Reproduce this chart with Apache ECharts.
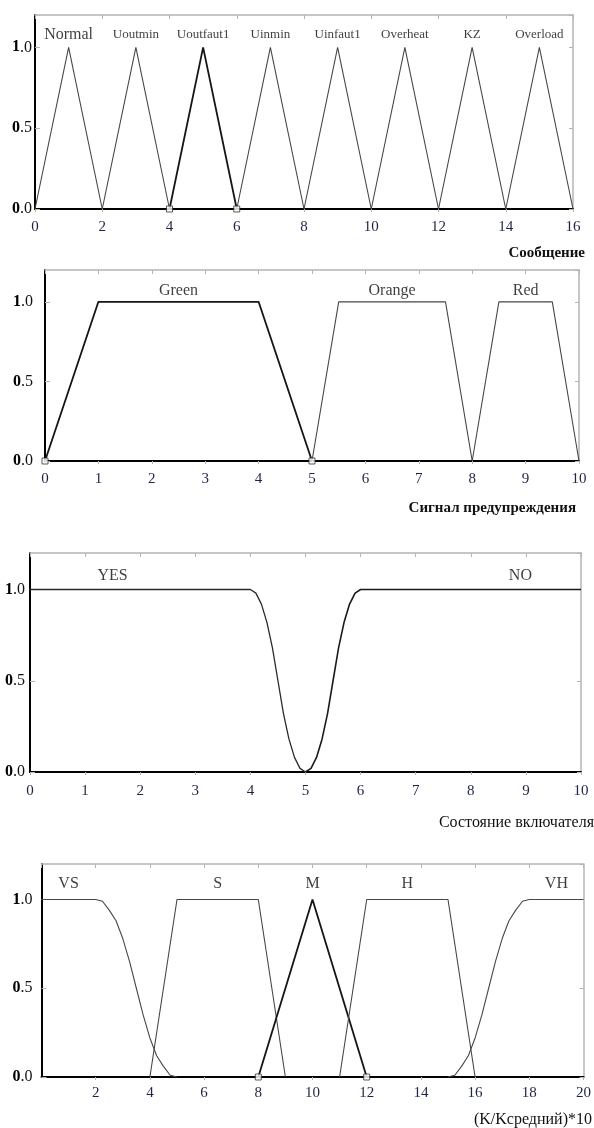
<!DOCTYPE html>
<html>
<head>
<meta charset="utf-8">
<style>
  html, body { margin: 0; padding: 0; background: #fff; }
  #chart { width: 594px; height: 1128px; }
</style>
<script src="https://cdn.jsdelivr.net/npm/echarts@6/dist/echarts.min.js"></script>
</head>
<body>
<div id="chart"></div>
<script>
// ---- Membership functions: "Сообщение" (triangles a, b, c)
const msgTerms = ['Normal', 'Uoutmin', 'Uoutfaut1', 'Uinmin', 'Uinfaut1', 'Overheat', 'KZ', 'Overload'];
const msgParams = [[0, 1, 2], [2, 3, 4], [4, 5, 6], [6, 7, 8], [8, 9, 10], [10, 11, 12], [12, 13, 14], [14, 15, 16]];
const msgSelected = 2;

// ---- "Сигнал предупреждения" (trapezoids a, b, c, d)
const warnTerms = ['Green', 'Orange', 'Red'];
const warnParams = [[0, 1, 4, 5], [5, 5.5, 7.5, 8], [8, 8.5, 9.5, 10]];
const warnLabelX = [2.5, 6.5, 9];
const warnSelected = 0;

// ---- "Состояние включателя" (Z / S shaped curves, sampled every 0.1)
const switchTerms = ['YES', 'NO'];
const switchYesX = [0, 4, 4.1, 4.2, 4.3, 4.4, 4.5, 4.6, 4.7, 4.8, 4.9, 5];
const switchYesY = [1, 1, 0.98, 0.92, 0.82, 0.68, 0.5, 0.32, 0.18, 0.08, 0.02, 0];
const switchNoX = [5, 5.1, 5.2, 5.3, 5.4, 5.5, 5.6, 5.7, 5.8, 5.9, 6, 10];
const switchNoY = [0, 0.02, 0.08, 0.18, 0.32, 0.5, 0.68, 0.82, 0.92, 0.98, 1, 1];
const switchLabelX = [1.5, 8.9];

// ---- "(K/Kсредний)*10"
const ratioTerms = ['VS', 'S', 'M', 'H', 'VH'];
const ratioVSX = [0, 2, 2.25, 2.5, 2.75, 3, 3.25, 3.5, 3.75, 4, 4.25, 4.5, 4.75, 5];
const ratioVSY = [1, 1, 0.99, 0.94, 0.88, 0.78, 0.65, 0.5, 0.35, 0.22, 0.12, 0.06, 0.01, 0];
const ratioSX = [4, 5, 8, 9];
const ratioSY = [0, 1, 1, 0];
const ratioMX = [8, 10, 12];
const ratioMY = [0, 1, 0];
const ratioHX = [11, 12, 15, 16];
const ratioHY = [0, 1, 1, 0];
const ratioVHX = [15, 15.25, 15.5, 15.75, 16, 16.25, 16.5, 16.75, 17, 17.25, 17.5, 17.75, 18, 20];
const ratioVHY = [0, 0.01, 0.06, 0.12, 0.22, 0.35, 0.5, 0.65, 0.78, 0.88, 0.94, 0.99, 1, 1];
const ratioLabelX = [1, 6.5, 10, 13.5, 19];

const SERIF = '"Liberation Serif", "DejaVu Serif", serif';
const LINE = '#474747';
const LINE_SEL = '#151515';
const TICK_COLOR = '#1f2444';
const FRAME = '#b4b4b4';

const zip = (xs, ys) => xs.map((x, i) => [x, ys[i]]);

const grids = [
  { left: 35, top: 15, width: 538, height: 194 },
  { left: 45, top: 270, width: 534, height: 191 },
  { left: 30, top: 553, width: 551, height: 219 },
  { left: 41.5, top: 864, width: 545.5, height: 213 }
];
const xRanges = [
  { max: 16, interval: 2, margin: 11, showMin: true },
  { max: 10, interval: 1, margin: 11, showMin: true },
  { max: 10, interval: 1, margin: 12, showMin: true },
  { max: 20, interval: 2, margin: 9, showMin: false }
];
const yMargins = [3, 12, 5, 9];
const labelLift = [-13, -11, -14, -16];

const xAxes = [], yAxes = [];
grids.forEach((g, i) => {
  const r = xRanges[i];
  xAxes.push({
    gridIndex: i, type: 'value', min: 0, max: r.max, interval: r.interval, position: 'bottom',
    axisLine: { show: true, onZero: false, lineStyle: { color: '#000', width: 2 } },
    axisTick: { show: true, length: 3, lineStyle: { color: FRAME } },
    splitLine: { show: false },
    axisLabel: { show: true, margin: r.margin, showMinLabel: r.showMin, fontFamily: SERIF, fontSize: 15, color: TICK_COLOR }
  });
  xAxes.push({
    gridIndex: i, type: 'value', min: 0, max: r.max, interval: r.interval, position: 'top',
    axisLine: { show: true, onZero: false, lineStyle: { color: FRAME, width: 1.5 } },
    axisTick: { show: true, inside: true, length: 4, lineStyle: { color: FRAME } },
    splitLine: { show: false }, axisLabel: { show: false }
  });
  yAxes.push({
    gridIndex: i, type: 'value', min: 0, max: 1.2, interval: 0.5, position: 'left',
    axisLine: { show: true, onZero: false, lineStyle: { color: '#000', width: 2 } },
    axisTick: { show: true, inside: true, length: 5, lineStyle: { color: FRAME } },
    splitLine: { show: false },
    axisLabel: {
      show: true, margin: yMargins[i], showMaxLabel: false,
      formatter: v => {
        if (v > 1.05) return '';
        const s = v.toFixed(1);
        return '{b|' + s[0] + '}{n|' + s.slice(1) + '}';
      },
      rich: {
        b: { fontFamily: SERIF, fontSize: 16, fontWeight: 'bold', color: '#000' },
        n: { fontFamily: SERIF, fontSize: 16, color: '#111' }
      }
    }
  });
  yAxes.push({
    gridIndex: i, type: 'value', min: 0, max: 1.2, interval: 0.5, position: 'right',
    axisLine: { show: true, onZero: false, lineStyle: { color: FRAME, width: 1.5 } },
    axisTick: { show: true, inside: true, length: 4, lineStyle: { color: FRAME } },
    splitLine: { show: false }, axisLabel: { show: false }
  });
});

const series = [];
function mfLine(panel, points, color, width) {
  series.push({
    type: 'line', xAxisIndex: panel * 2, yAxisIndex: panel * 2,
    data: points, showSymbol: false, silent: true,
    lineStyle: { color: color, width: width }
  });
}
function termLabels(panel, names, xs, sizes) {
  series.push({
    type: 'scatter', xAxisIndex: panel * 2, yAxisIndex: panel * 2, silent: true,
    symbolSize: 1, itemStyle: { color: 'transparent' },
    data: names.map((n, k) => ({ value: [xs[k], 1], name: n, label: { fontSize: sizes[k] } })),
    label: {
      show: true, position: 'inside', offset: [0, labelLift[panel]],
      formatter: p => p.name, fontFamily: SERIF, color: '#0d0d0d'
    }
  });
}
function footMarks(panel, xs) {
  series.push({
    type: 'scatter', xAxisIndex: panel * 2, yAxisIndex: panel * 2, silent: true,
    symbol: 'rect', symbolSize: 6, z: 5,
    itemStyle: { color: '#fff', borderColor: '#333', borderWidth: 1 },
    data: xs.map(x => [x, 0])
  });
}

// Panel 1: message terms
msgParams.forEach((p, k) => {
  const sel = k === msgSelected;
  mfLine(0, [[p[0], 0], [p[1], 1], [p[2], 0]], sel ? LINE_SEL : LINE, sel ? 1.8 : 1.1);
});
termLabels(0, msgTerms, msgParams.map(p => p[1]), msgTerms.map((n, k) => (k === 0 ? 16 : 13)));
footMarks(0, [msgParams[msgSelected][0], msgParams[msgSelected][2]]);

// Panel 2: warning signal
warnParams.forEach((p, k) => {
  const sel = k === warnSelected;
  mfLine(1, [[p[0], 0], [p[1], 1], [p[2], 1], [p[3], 0]], sel ? LINE_SEL : LINE, sel ? 1.8 : 1.1);
});
termLabels(1, warnTerms, warnLabelX, [16, 16, 16]);
footMarks(1, [warnParams[warnSelected][0], warnParams[warnSelected][3]]);

// Panel 3: switch state
mfLine(2, zip(switchYesX, switchYesY), '#2a2a2a', 1.3);
mfLine(2, zip(switchNoX, switchNoY), '#1a1a1a', 1.6);
termLabels(2, switchTerms, switchLabelX, [16, 16]);

// Panel 4: ratio terms
mfLine(3, zip(ratioVSX, ratioVSY), LINE, 1.1);
mfLine(3, zip(ratioSX, ratioSY), LINE, 1.1);
mfLine(3, zip(ratioMX, ratioMY), LINE_SEL, 1.8);
mfLine(3, zip(ratioHX, ratioHY), LINE, 1.1);
mfLine(3, zip(ratioVHX, ratioVHY), LINE, 1.1);
termLabels(3, ratioTerms, ratioLabelX, [16, 16, 16, 16, 16]);
footMarks(3, [ratioMX[0], ratioMX[2]]);

const axisTitles = [
  { text: 'Сообщение', x: 585, y: 253, bold: true },
  { text: 'Сигнал предупреждения', x: 576, y: 508, bold: true },
  { text: 'Состояние включателя', x: 594, y: 823, bold: false },
  { text: '(K/Kсредний)*10', x: 592, y: 1120, bold: false }
];

const chart = echarts.init(document.getElementById('chart'), null, { renderer: 'canvas' });
chart.setOption({
  animation: false,
  backgroundColor: '#fff',
  grid: grids,
  xAxis: xAxes,
  yAxis: yAxes,
  series: series,
  graphic: axisTitles.map(t => ({
    type: 'text', silent: true,
    style: {
      text: t.text, x: t.x, y: t.y, align: 'right', verticalAlign: 'middle',
      fontFamily: SERIF, fontSize: t.bold ? 15 : 16, fontWeight: t.bold ? 'bold' : 'normal', fill: '#111'
    }
  }))
});
</script>
</body>
</html>
